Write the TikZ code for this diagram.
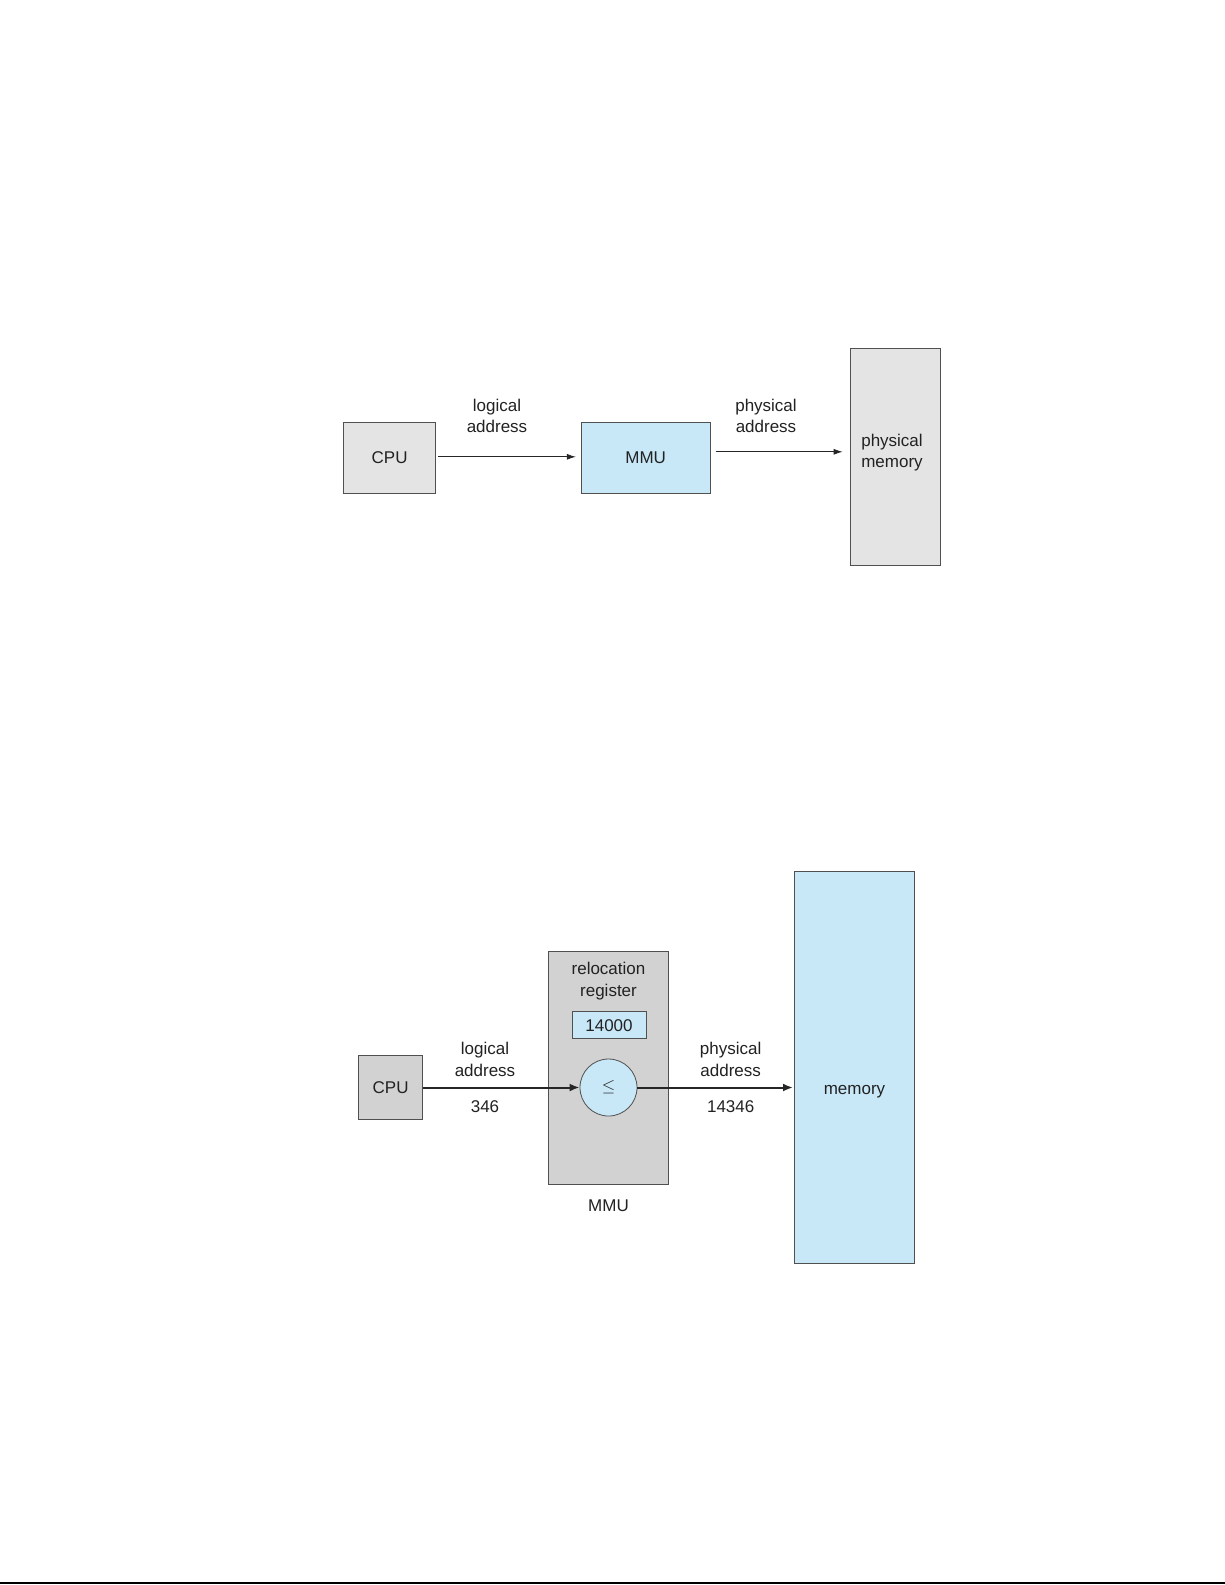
\documentclass[tikz,border=0pt]{standalone}
\usepackage{fontspec}
\setmainfont{Liberation Sans}
\usetikzlibrary{arrows.meta}
\definecolor{boxgray}{HTML}{E4E4E4}
\definecolor{darkgray2}{HTML}{D2D2D2}
\definecolor{lblue}{HTML}{C8E8F8}
\definecolor{edge}{HTML}{505050}
\definecolor{txt}{HTML}{222222}
\tikzset{
  box/.style={draw=edge, line width=0.8pt, inner sep=0pt, text=txt, font=\fontsize{17}{21}\selectfont, align=center},
  lbl/.style={text=txt, font=\fontsize{17}{21.5}\selectfont, align=center, inner sep=0pt},
  thinarrow/.style={draw=black!85, line width=0.8pt, -{Latex[length=9pt,width=6pt]}},
  thickarrow/.style={draw=black!85, line width=2pt, -{Latex[length=10pt,width=8pt]}},
}
\begin{document}
\begin{tikzpicture}[x=1pt,y=-1pt]
\useasboundingbox (0,0) rectangle (1225,1585);
\fill[white] (0,0) rectangle (1225,1585);

% ---------- top diagram ----------
\node[box, fill=boxgray, minimum width=92pt, minimum height=71pt] (cpu1) at (389.6,457.8) {CPU};
\node[box, fill=lblue, minimum width=129pt, minimum height=71pt] (mmu1) at (645.7,457.8) {MMU};
\node[box, fill=boxgray, minimum width=90pt, minimum height=217pt] (pm1) at (895,457.3) {};
\node[lbl] (pmt) at (892,452.5) {physical\\memory};
\draw[thinarrow] ([xshift=2pt,yshift=1pt]cpu1.east) -- ([xshift=-5pt,yshift=1pt]mmu1.west);
\draw[thinarrow] ([xshift=5pt,yshift=6pt]mmu1.east) -- ([xshift=-7pt,yshift=5.5pt]pm1.west);
\node[lbl] (la1) at (497,416) {logical\\address};
\node[lbl] (pa1) at (766,416) {physical\\address};

% ---------- bottom diagram ----------
\node[box, fill=lblue, minimum width=120pt, minimum height=392pt, line width=1pt] (mem2) at (854.5,1067.2) {};
\node[lbl] (memt) at (854.5,1092) {memory};
\node[box, fill=darkgray2, minimum width=120pt, minimum height=233pt] (mmu2) at (608,1067.8) {};
\node[lbl] (rr) at (608.5,981) {relocation\\register};
\node[box, fill=lblue, minimum width=74pt, minimum height=27pt, line width=1pt] (reg) at (609,1025.3) {14000};
\node[box, fill=lblue, circle, minimum size=57pt] (add) at (608.5,1087.5) {\fontsize{16}{16}\selectfont$\leq$};
\node[box, fill=darkgray2, minimum width=64pt, minimum height=64pt] (cpu2) at (390.6,1087.5) {CPU};
\draw[thickarrow] (cpu2.east) -- (add.west);
\draw[thickarrow] (add.east) -- ([xshift=-1pt]mem2.west |- add.east);
\node[lbl] (la2) at (485,1059.5) {logical\\address};
\node[lbl] (n346) at (485,1106.5) {346};
\node[lbl] (pa2) at (730.7,1059.5) {physical\\address};
\node[lbl] (n14346) at (730.7,1106.5) {14346};
\node[lbl] (mmulbl) at (608.5,1205.5) {MMU};

% bottom rule
\draw[line width=2pt, black] (0,1583) -- (1225,1583);
\end{tikzpicture}
\end{document}
